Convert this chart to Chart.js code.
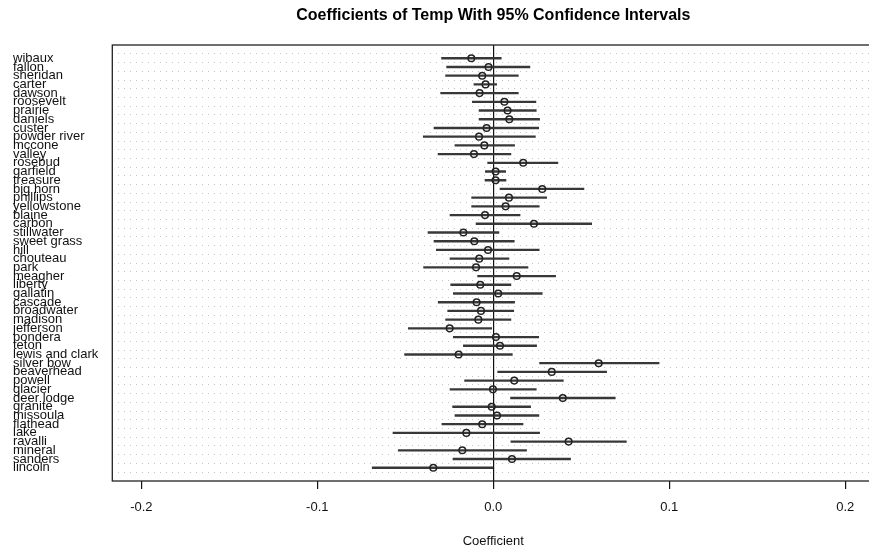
<!DOCTYPE html>
<html lang="en">
<head>
<meta charset="UTF-8">
<title>Coefficients of Temp</title>
<script src="https://cdn.jsdelivr.net/npm/chart.js"></script>
<style>
  html, body { margin: 0; padding: 0; background: #fff; overflow: hidden; }
  canvas { display: block; }
</style>
</head>
<body>
<canvas id="grafico" width="880" height="550"></canvas>
<script>
// counties, top to bottom
const counties = ['wibaux', 'fallon', 'sheridan', 'carter', 'dawson', 'roosevelt', 'prairie', 'daniels',
  'custer', 'powder river', 'mccone', 'valley', 'rosebud', 'garfield', 'treasure', 'big horn',
  'phillips', 'yellowstone', 'blaine', 'carbon', 'stillwater', 'sweet grass', 'hill', 'chouteau',
  'park', 'meagher', 'liberty', 'gallatin', 'cascade', 'broadwater', 'madison', 'jefferson',
  'pondera', 'teton', 'lewis and clark', 'silver bow', 'beaverhead', 'powell', 'glacier', 'deer lodge',
  'granite', 'missoula', 'flathead', 'lake', 'ravalli', 'mineral', 'sanders', 'lincoln'];

// temp coefficient estimate per county
const estimates = [-0.0125, -0.0027, -0.0063, -0.0044, -0.0078, 0.0063, 0.0081, 0.0091,
  -0.0038, -0.0081, -0.0051, -0.0110, 0.0170, 0.0013, 0.0013, 0.0278,
  0.0089, 0.0070, -0.0047, 0.0231, -0.0170, -0.0108, -0.0030, -0.0080,
  -0.0098, 0.0133, -0.0074, 0.0028, -0.0095, -0.0070, -0.0085, -0.0248,
  0.0015, 0.0038, -0.0197, 0.0599, 0.0332, 0.0119, -0.0002, 0.0395,
  -0.0009, 0.0021, -0.0063, -0.0153, 0.0428, -0.0176, 0.0106, -0.0341];

// 95% interval, lower bound
const lowers = [-0.0294, -0.0265, -0.0271, -0.0110, -0.0299, -0.0119, -0.0081, -0.0081,
  -0.0337, -0.0398, -0.0218, -0.0314, -0.0032, -0.0045, -0.0047, 0.0038,
  -0.0123, -0.0123, -0.0246, -0.0098, -0.0371, -0.0337, -0.0324, -0.0246,
  -0.0396, -0.0089, -0.0242, -0.0227, -0.0313, -0.0259, -0.0271, -0.0483,
  -0.0227, -0.0170, -0.0504, 0.0263, 0.0025, -0.0163, -0.0246, 0.0098,
  -0.0231, -0.0218, -0.0292, -0.0570, 0.0100, -0.0540, -0.0229, -0.0688];

// 95% interval, upper bound
const uppers = [0.0045, 0.0208, 0.0142, 0.0019, 0.0142, 0.0242, 0.0244, 0.0263,
  0.0258, 0.0239, 0.0121, 0.0100, 0.0367, 0.0070, 0.0072, 0.0515,
  0.0303, 0.0261, 0.0152, 0.0559, 0.0032, 0.0119, 0.0261, 0.0089,
  0.0197, 0.0354, 0.0100, 0.0278, 0.0121, 0.0116, 0.0100, -0.0009,
  0.0258, 0.0246, 0.0108, 0.0942, 0.0644, 0.0398, 0.0244, 0.0693,
  0.0212, 0.0259, 0.0169, 0.0263, 0.0756, 0.0189, 0.0439, 0.0000];

const xTicks = [-0.2, -0.1, 0, 0.1, 0.2];

const FONT = '"Liberation Sans", Arial, Helvetica, sans-serif';
const rows = counties.map((c, i) => i + 1);

// title on top + box round the plot
const moldura = {
  id: 'moldura',
  afterDraw(chart) {
    const { ctx, chartArea: a } = chart;
    ctx.save();
    ctx.strokeStyle = '#222';
    ctx.lineWidth = 1.3;
    ctx.strokeRect(a.left, a.top, a.right - a.left, a.bottom - a.top);
    ctx.fillStyle = '#000';
    ctx.font = 'bold 16px ' + FONT;
    ctx.textAlign = 'center';
    ctx.textBaseline = 'alphabetic';
    ctx.fillText('Coefficients of Temp With 95% Confidence Intervals', (a.left + a.right) / 2, 20);
    ctx.restore();
  }
};

const ctx = document.getElementById('grafico').getContext('2d');
new Chart(ctx, {
  type: 'scatter',
  data: {
    datasets: [{
      type: 'scatter',
      data: rows.map(r => ({ x: estimates[r - 1], y: r })),
      pointStyle: 'circle',
      pointRadius: 3.3,
      borderColor: '#222',
      borderWidth: 1.5,
      backgroundColor: 'rgba(0,0,0,0)',
      order: 0
    }, {
      type: 'bar',
      indexAxis: 'y',
      data: rows.map(r => ({ x: [lowers[r - 1], uppers[r - 1]], y: r })),
      backgroundColor: '#383838',
      borderWidth: 0,
      barThickness: 1.7,
      grouped: false,
      order: 1
    }]
  },
  options: {
    responsive: false,
    animation: false,
    events: [],
    layout: { padding: { left: 13, right: 5.7, top: 45, bottom: 0 } },
    plugins: { legend: { display: false }, tooltip: { enabled: false } },
    scales: {
      x: {
        type: 'linear',
        min: -0.2165,
        max: 0.2165,
        afterBuildTicks: s => { s.ticks = xTicks.map(v => ({ value: v })); },
        afterFit: s => { s.height = 69; },
        border: { display: false },
        grid: {
          drawOnChartArea: true,
          color: c => (c.tick && c.tick.value === 0 ? '#111' : 'rgba(0,0,0,0)'),
          lineWidth: 1.2,
          tickColor: '#111',
          tickLength: 8,
          tickWidth: 1.2
        },
        ticks: {
          color: '#111',
          font: { family: FONT, size: 13 },
          padding: 11,
          maxRotation: 0,
          autoSkip: false,
          callback: v => v.toFixed(1)
        },
        title: {
          display: true,
          text: 'Coefficient',
          color: '#111',
          font: { family: FONT, size: 13 },
          padding: { top: 0, bottom: 1 }
        }
      },
      y: {
        type: 'linear',
        reverse: true,
        min: 0,
        max: 49,
        afterBuildTicks: s => { s.ticks = rows.map(v => ({ value: v })); },
        afterFit: s => { s.width = 99.3; },
        border: { display: false, dash: [1, 5] },
        grid: {
          color: '#c4c4c4',
          lineWidth: 1,
          drawTicks: false
        },
        ticks: {
          color: '#111',
          font: { family: FONT, size: 13 },
          crossAlign: 'far',
          autoSkip: false,
          callback: v => counties[v - 1] || ''
        }
      }
    }
  },
  plugins: [moldura]
});
</script>
</body>
</html>
